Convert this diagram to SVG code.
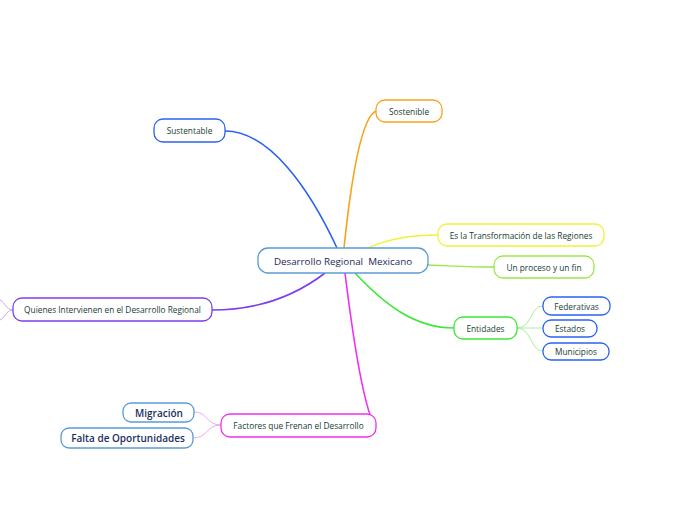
<svg xmlns="http://www.w3.org/2000/svg" width="696" height="520" viewBox="0 0 696 520">
<style>
.n rect{fill:#fff;stroke-width:1.3}
.t{font-family:"Open Sans",sans-serif;font-size:8.3px;fill:#173c33;text-anchor:middle;dominant-baseline:central}
.tb{font-family:"Open Sans",sans-serif;font-size:10px;font-weight:600;fill:#1b2f5e;text-anchor:middle;dominant-baseline:central}
.c path{fill:none}
</style>
<rect width="696" height="520" fill="#fff"/>
<g class="c">
<path d="M225,131 C270,131 310,190 337,248" stroke="#2a62f0" stroke-width="1.6"/>
<path d="M376,111 C360,118 350,190 344,248" stroke="#f7a21c" stroke-width="1.6"/>
<path d="M367,248 C392,238 412,235 438,235" stroke="#eef23a" stroke-width="1.3"/>
<path d="M428,265 C455,266 470,267 494,267" stroke="#9ce84a" stroke-width="1.3"/>
<path d="M355,273 C385,305 415,328 454,328" stroke="#3be836" stroke-width="1.6"/>
<path d="M325,273 C290,300 250,310 212,310" stroke="#7b3ff0" stroke-width="1.6"/>
<path d="M345,273 C352,330 362,400 374,425" stroke="#f02ff0" stroke-width="1.6"/>
<path d="M517,328 C532,328 530,306 543,306" stroke="#a8eda0" stroke-width="1"/>
<path d="M517,328 C530,328 532,328 543,328" stroke="#a8eda0" stroke-width="1"/>
<path d="M517,328 C532,328 530,351 543,351" stroke="#a8eda0" stroke-width="1"/>
<path d="M221,425 C206,425 208,412 194,412" stroke="#f4a6ef" stroke-width="1"/>
<path d="M221,425 C206,425 208,438 193,438" stroke="#f4a6ef" stroke-width="1"/>
<path d="M13,310 C6,310 5,302 0,300" stroke="#c6a8f4" stroke-width="1"/>
<path d="M13,310 C6,310 5,318 0,320" stroke="#c6a8f4" stroke-width="1"/>
</g>
<g id="center" class="n"><rect x="258" y="248" width="170" height="25" rx="10" stroke="#5b9bd5"/><text x="343" y="261" class="t" style="font-size:9.8px;fill:#1b2a5a;white-space:pre" xml:space="preserve">Desarrollo Regional  Mexicano</text></g>
<g id="sustentable" class="n"><rect x="154" y="119" width="71" height="23" rx="9" stroke="#2a62f0"/><text x="189.5" y="130.5" class="t">Sustentable</text></g>
<g id="sostenible" class="n"><rect x="376" y="100" width="66" height="22" rx="9" stroke="#f7a21c"/><text x="409" y="111" class="t">Sostenible</text></g>
<g id="transformacion" class="n"><rect x="438" y="224" width="166" height="22" rx="9" stroke="#eef23a"/><text x="521" y="235" class="t">Es la Transformación de las Regiones</text></g>
<g id="proceso" class="n"><rect x="494" y="256" width="100" height="22" rx="9" stroke="#9ce84a"/><text x="544" y="267" class="t">Un proceso y un fin</text></g>
<g id="entidades" class="n"><rect x="454" y="317" width="63" height="22" rx="9" stroke="#3be836"/><text x="485.5" y="328" class="t">Entidades</text></g>
<g id="federativas" class="n"><rect x="543" y="297" width="67" height="18" rx="8" stroke="#2a62f0"/><text x="576.5" y="306" class="t">Federativas</text></g>
<g id="estados" class="n"><rect x="543" y="320" width="54" height="17" rx="8" stroke="#2a62f0"/><text x="570" y="328.5" class="t">Estados</text></g>
<g id="municipios" class="n"><rect x="543" y="343" width="66" height="17" rx="8" stroke="#2a62f0"/><text x="576" y="351.5" class="t">Municipios</text></g>
<g id="quienes" class="n"><rect x="13" y="298" width="199" height="23" rx="9" stroke="#7b3ff0"/><text x="112.5" y="309.5" class="t">Quienes Intervienen en el Desarrollo Regional</text></g>
<g id="factores" class="n"><rect x="221" y="414" width="155" height="23" rx="9" stroke="#f02ff0"/><text x="298.5" y="425.5" class="t">Factores que Frenan el Desarrollo</text></g>
<g id="migracion" class="n"><rect x="123" y="403" width="71" height="19" rx="8" stroke="#5b9bd5"/><text x="159" y="412.5" class="tb">Migración</text></g>
<g id="falta" class="n"><rect x="61" y="428" width="132" height="20" rx="8" stroke="#5b9bd5"/><text x="128" y="438" class="tb">Falta de Oportunidades</text></g>
</svg>
